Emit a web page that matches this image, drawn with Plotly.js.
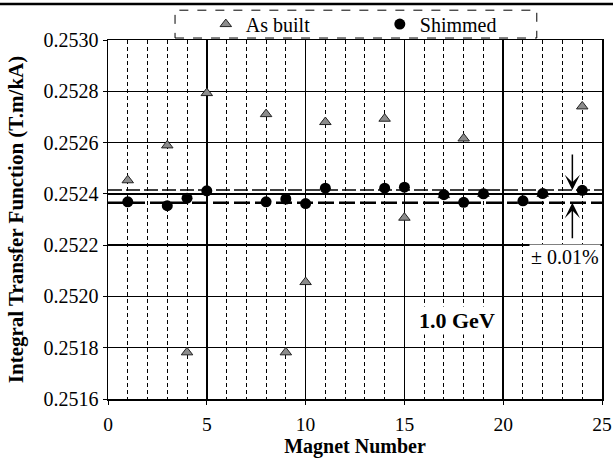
<!DOCTYPE html>
<html>
<head>
<meta charset="utf-8">
<script src="https://cdn.plot.ly/plotly-3.0.1.min.js"></script>
<style>
html,body{margin:0;padding:0;background:#fff;}
#chart{width:613px;height:458px;}
</style>
</head>
<body>
<div id="chart"></div>
<script>
// Data
var magnetsBuilt = [1, 3, 4, 5, 8, 9, 10, 11, 14, 15, 17, 18, 19, 21, 22, 24];
var asBuilt = [0.252453, 0.252589, 0.251782, 0.252793, 0.252711, 0.251782, 0.252056, 0.252680,
               0.252693, 0.252307, 0.252395, 0.252616, 0.252400, 0.252372, 0.252400, 0.252741];
var magnetsShim = [1, 3, 4, 5, 8, 9, 10, 11, 14, 15, 17, 18, 19, 21, 22, 24];
var shimmed = [0.252369, 0.252354, 0.252383, 0.252412, 0.252369, 0.252380, 0.252362, 0.252422,
               0.252422, 0.252426, 0.252397, 0.252367, 0.252400, 0.252373, 0.252401, 0.252414];
var bandX = [0, 25];
var bandUpper = [0.252415, 0.252415];
var bandLower = [0.252365, 0.252365];

var FONT = 'Liberation Serif';

var traces = [
  {x: bandX, y: bandUpper, mode: 'lines', showlegend: false, hoverinfo: 'skip',
   line: {color: 'black', width: 1.5, dash: '14px,4px'}},
  {x: bandX, y: bandLower, mode: 'lines', showlegend: false, hoverinfo: 'skip',
   line: {color: 'black', width: 2.5, dash: '16px,5px'}},
  {x: magnetsBuilt, y: asBuilt, mode: 'markers', name: 'As built',
   marker: {symbol: 'triangle-up', size: 10, color: '#8c8c8c', line: {color: '#222', width: 1}}},
  {x: magnetsShim, y: shimmed, mode: 'markers', name: 'Shimmed',
   marker: {symbol: 'circle', size: 11, color: 'black'}}
];

var layout = {
  width: 613, height: 458,
  margin: {l: 108, r: 11, t: 40, b: 59, autoexpand: false},
  paper_bgcolor: 'white', plot_bgcolor: 'white',
  font: {family: FONT, color: 'black', size: 20},
  showlegend: true,
  legend: {orientation: 'h', x: 0.198, xanchor: 'left', xref: 'paper',
           y: 0.99, yanchor: 'top', yref: 'container',
           bgcolor: 'rgba(0,0,0,0)', borderwidth: 0, font: {family: FONT, size: 20},
           entrywidth: 129, entrywidthmode: 'pixels', tracegroupgap: 0},
  xaxis: {
    range: [0, 25], dtick: 5, tick0: 0,
    showgrid: true, gridcolor: 'black', gridwidth: 1.5,
    minor: {dtick: 1, showgrid: true, gridcolor: 'black', gridwidth: 1, griddash: '4px,3px'},
    showline: true, mirror: true, linecolor: 'black', linewidth: 1.5,
    ticks: 'outside', ticklen: 4, tickcolor: 'black',
    zeroline: false, ticklabelstandoff: 3, automargin: false,
    tickfont: {family: FONT, size: 19.5},
    title: {text: '<b>Magnet Number</b>', font: {family: FONT, size: 20}, standoff: 12}
  },
  yaxis: {
    range: [0.2516, 0.2530], dtick: 0.0002, tick0: 0.2516, tickformat: '.4f',
    showgrid: true, gridcolor: 'black', gridwidth: 1.5,
    showline: true, mirror: true, linecolor: 'black', linewidth: 1.5,
    ticks: 'outside', ticklen: 4, tickcolor: 'black',
    zeroline: false, automargin: false,
    tickfont: {family: FONT, size: 20},
    title: {text: '<b>Integral Transfer Function (T.m/kA)</b>', font: {family: FONT, size: 21}, standoff: 14}
  },
  shapes: [
    {type: 'rect', xref: 'paper', yref: 'paper', x0: 0.1357, x1: 0.868, y0: 1.0055, y1: 1.083,
     line: {color: 'black', width: 1, dash: 'dash'}, fillcolor: 'rgba(0,0,0,0)'},
    {type: 'line', xref: 'paper', yref: 'paper', x0: -0.3, x1: 1.05, y0: 1.1, y1: 1.1,
     line: {color: 'black', width: 2.5}}
  ],
  annotations: [
    {x: 23.5, y: 0.252415, xref: 'x', yref: 'y', ax: 0, ay: -37, showarrow: true,
     arrowhead: 3, arrowsize: 1.7, arrowwidth: 1.5, arrowcolor: 'black', text: ''},
    {x: 23.5, y: 0.252365, xref: 'x', yref: 'y', ax: 0, ay: 37, showarrow: true,
     arrowhead: 3, arrowsize: 1.7, arrowwidth: 1.5, arrowcolor: 'black', text: ''},
    {x: 23.14, y: 0.252152, xref: 'x', yref: 'y', showarrow: false, text: '± 0.01%',
     font: {family: FONT, size: 20}, bgcolor: 'white'},
    {x: 17.67, y: 0.251907, xref: 'x', yref: 'y', showarrow: false, text: '<b>1.0 GeV</b>',
     font: {family: FONT, size: 22}, bgcolor: 'white'}
  ]
};

Plotly.newPlot('chart', traces, layout, {displayModeBar: false, staticPlot: true});
</script>
</body>
</html>
